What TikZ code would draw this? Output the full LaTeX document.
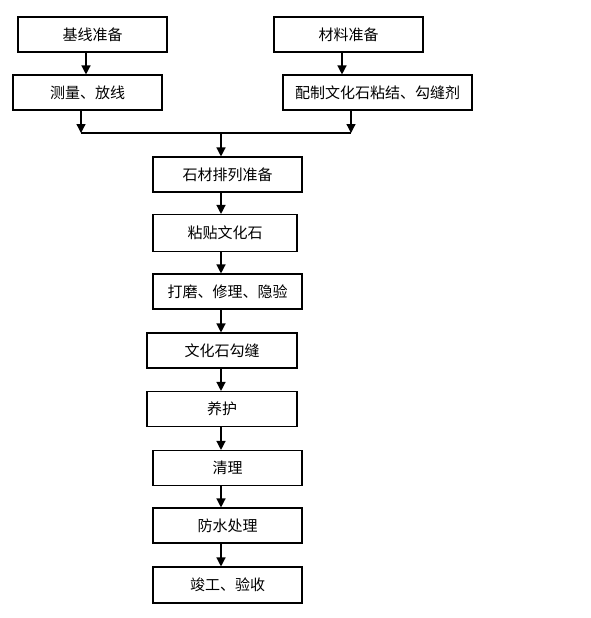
\documentclass[tikz,border=0pt]{standalone}
\usepackage{fontspec}
\setmainfont{Noto Sans CJK SC}
\usepackage{tikz}
\usetikzlibrary{arrows.meta,positioning,calc}

\begin{document}
\begin{tikzpicture}[x=1pt, y=-1pt, thick,
    stage/.style={draw, line width=1.1pt, rectangle, minimum height=35pt, inner sep=0pt,
                  font=\fontsize{15}{17}\selectfont},
    arr/.style={-{Triangle[length=9pt,width=9pt]}, line width=1.3pt}]
    \useasboundingbox (0,0) rectangle (591,618);

    % Preparation branches
    \node[stage, minimum width=149pt] (base) at (92.5,34.5) {基线准备};
    \node[stage, minimum width=149pt] (mat) at (348.5,34.5) {材料准备};
    \node[stage, minimum width=149pt] (meas) at (87.5,92.5) {测量、放线};
    \node[stage, minimum width=189pt] (mix) at (377.5,92.5) {配制文化石粘结、勾缝剂};

    % Main column
    \node[stage, minimum width=149pt] (prep) at (227.5,174.5) {石材排列准备};
    \node[stage, minimum width=144pt, minimum height=37pt] (paste) at (225,233) {粘贴文化石};
    \node[stage, minimum width=149pt] (grind) at (227.5,291.5) {打磨、修理、隐验};
    \node[stage, minimum width=150pt] (joint) at (222,350.5) {文化石勾缝};
    \node[stage, minimum width=150pt] (cure) at (222,409) {养护};
    \node[stage, minimum width=149pt] (clean) at (227.5,468) {清理};
    \node[stage, minimum width=149pt] (water) at (227.5,525.5) {防水处理};
    \node[stage, minimum width=149pt, minimum height=36pt] (done) at (227.5,585) {竣工、验收};

    % Join point
    \coordinate (j) at (221,133);

    \draw[arr] ([xshift=-6.5pt]base.south) -- ([xshift=-6.5pt]base.south |- meas.north);
    \draw[arr] ([xshift=-6.5pt]mat.south) -- ([xshift=-6.5pt]mat.south |- mix.north);
    \draw[arr] ([xshift=-6.5pt]meas.south) -- ([xshift=-6.5pt]meas.south |- j);
    \draw[arr] ([xshift=-26.5pt]mix.south) -- ([xshift=-26.5pt]mix.south |- j);
    \draw[line width=1.3pt] ([xshift=-6.5pt]meas.south |- j) -- ([xshift=-26.5pt]mix.south |- j);
    \draw[arr] (j) -- (prep.north -| j);

    \draw[arr] (prep.south -| j) -- (paste.north -| j);
    \draw[arr] (paste.south -| j) -- (grind.north -| j);
    \draw[arr] (grind.south -| j) -- (joint.north -| j);
    \draw[arr] (joint.south -| j) -- (cure.north -| j);
    \draw[arr] (cure.south -| j) -- (clean.north -| j);
    \draw[arr] (clean.south -| j) -- (water.north -| j);
    \draw[arr] (water.south -| j) -- (done.north -| j);
\end{tikzpicture}
\end{document}
